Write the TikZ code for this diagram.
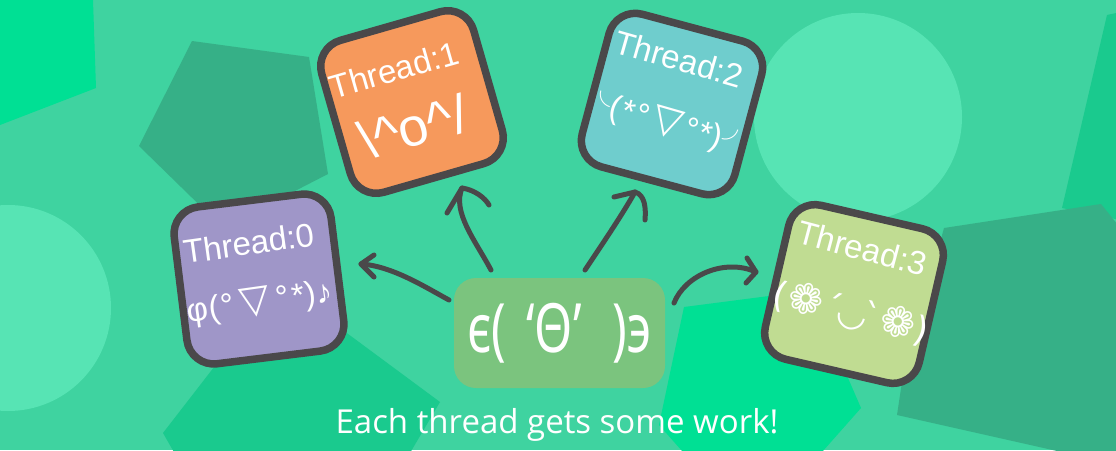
\documentclass[tikz,border=0pt]{standalone}
\usepackage{graphicx}
\usepackage{fontspec}
\setmainfont{Liberation Sans}
\newfontfamily\capfont{Open Sans}
\newfontfamily\jpfont{Noto Sans CJK JP}
\newfontfamily\djvfont{DejaVu Sans}
\newfontfamily\notofont{Noto Sans}
\definecolor{bg}{RGB}{63,211,160}
\definecolor{bright}{RGB}{0,224,148}
\definecolor{darkg}{RGB}{54,176,135}
\definecolor{lightg}{RGB}{87,228,180}
\definecolor{midg}{RGB}{26,202,142}
\definecolor{edge}{RGB}{74,72,74}
\definecolor{cpurple}{RGB}{159,150,200}
\definecolor{corange}{RGB}{246,153,92}
\definecolor{cteal}{RGB}{111,205,205}
\definecolor{cgreen}{RGB}{192,220,146}
\definecolor{cmain}{RGB}{123,196,126}
\newcommand{\tri}{{\djvfont\fontsize{39}{39}\selectfont ▽}}
\newcommand{\flw}{{\djvfont\fontsize{42}{42}\selectfont ❁}}
\newcommand{\cx}[1]{\scalebox{0.72}[1]{#1}}
\begin{document}
\begin{tikzpicture}[x=1pt,y=-1pt,
  thbox/.style={draw=edge, line width=7.5pt, rounded corners=27pt, minimum width=158pt, minimum height=158pt, inner sep=0pt},
  lbl/.style={text=white, inner sep=0pt, font=\fontsize{33}{33}\selectfont},
  kao/.style={text=white, inner sep=0pt},
  arr/.style={draw=edge, line width=5pt, line cap=round, line join=round}]
\useasboundingbox (0,0) rectangle (1116,450);
\begin{scope}
\clip (0,0) rectangle (1116,450);
\fill[bg] (0,0) rectangle (1116,450);
% background shapes
\fill[bright] (0,0) -- (93,0) -- (96,88) -- (0,125) -- cycle;
\fill[darkg] (192,41) -- (309,57) -- (328,174) -- (223,228) -- (139,146) -- cycle;
\fill[lightg] (8,308) circle[radius=103];
\fill[midg] (163,433) -- (235,340) -- (340,328) -- (440,402) -- (400,470) -- (190,480) -- cycle;
\fill[lightg] (858,117) circle[radius=104];
\fill[midg] (1107,15) -- (1130,10) -- (1130,222) -- (1062,208) -- cycle;
\fill[bright] (684,307) -- (800,292) -- (848,378) -- (861,408) -- (815,460) -- (690,460) -- (659,425) -- cycle;
\fill[darkg] (944,228) -- (1101,204) -- (1130,240) -- (1130,460) -- (1097,460) -- (897,415) -- (902,382) -- cycle;
\end{scope}
% thread boxes
\node[thbox, fill=cpurple, rotate=7] (b0) at (259,279) {};
\node[thbox, fill=corange, rotate=16] (b1) at (412,102) {};
\node[thbox, fill=cteal, rotate=-15] (b2) at (672,104) {};
\node[thbox, fill=cgreen, rotate=-13] (b3) at (854,294) {};
% labels
\node[lbl, rotate=8] (t0) at (249,243) {Thread:0};
\node[lbl, rotate=16] (t1) at (394,70) {Thread:1};
\node[lbl, rotate=-16] (t2) at (679,59) {Thread:2};
\node[lbl, rotate=-15] (t3) at (862,248) {Thread:3};
\node[kao, rotate=8, font=\fontsize{33}{33}\selectfont] (k0) at (260,303)
  {φ(\hspace{2pt}°\hspace{6pt}\tri\hspace{6pt}°\hspace{3pt}*)♪};
\node[kao, rotate=16, font=\fontsize{54}{54}\selectfont] (k1) at (413,127) {\textbackslash\textasciicircum o\textasciicircum/};
\node[kao, rotate=-16, font=\fontsize{33}{33}\selectfont] (k2) at (666,124)
  {{\jpfont\fontsize{26}{26}\selectfont ╰}\hspace{0pt}(\hspace{1pt}*\hspace{2pt}°\hspace{4pt}\tri\hspace{4pt}°\hspace{1pt}*)\hspace{0pt}{\jpfont\fontsize{26}{26}\selectfont ╯}};
\node[kao, rotate=-14, font=\djvfont\fontsize{36}{36}\selectfont] (k3) at (851,312)
  {(\hspace{1pt}\flw\hspace{2pt}´\hspace{-5pt}◡\hspace{-5pt}`\hspace{0pt}\flw\hspace{0pt})};
% main box
\node[fill=cmain, rounded corners=22pt, minimum width=211pt, minimum height=110pt, inner sep=0pt, text=white,
  font=\notofont\fontsize{68}{68}\selectfont] (main) at (559.5,333)
  {\cx{ϵ(}\hspace{20pt}\cx{‘Θ’}\hspace{31pt}\cx{)϶}};
% caption
\node[text=white, anchor=base, inner sep=0pt, font=\capfont\fontsize{33}{33}\selectfont] (cap) at (557,433) {Each thread gets some work!};
% arrows
\coordinate (a0s) at (449,300); \coordinate (a0t) at (361,264);
\coordinate (a0u) at (374,255); \coordinate (a0l) at (374,277);
\draw[arr] (a0s) .. controls (425,287) and (392,266) .. (a0t);
\draw[arr] (a0u) -- (a0t) -- (a0l);
\coordinate (a1s) at (491,270); \coordinate (a1t) at (462,188);
\coordinate (a1u) at (447,213); \coordinate (a1l) at (489,205);
\draw[arr] (a1s) .. controls (475,240) and (452,212) .. (a1t);
\draw[arr] (a1u) -- (a1t) .. controls (475,190) and (485,198) .. (a1l);
\coordinate (a2s) at (585,270); \coordinate (a2t) at (635,192);
\coordinate (a2u) at (614,197); \coordinate (a2l) at (645,220);
\draw[arr] (a2s) .. controls (605,240) and (622,215) .. (a2t);
\draw[arr] (a2u) -- (a2t) .. controls (645,195) and (646,208) .. (a2l);
\coordinate (a3s) at (674,303); \coordinate (a3t) at (756,272);
\coordinate (a3u) at (747,258); \coordinate (a3l) at (746,283);
\draw[arr] (a3s) .. controls (685,275) and (725,258) .. (a3t);
\draw[arr] (a3u) -- (a3t) -- (a3l);
\end{tikzpicture}
\end{document}
